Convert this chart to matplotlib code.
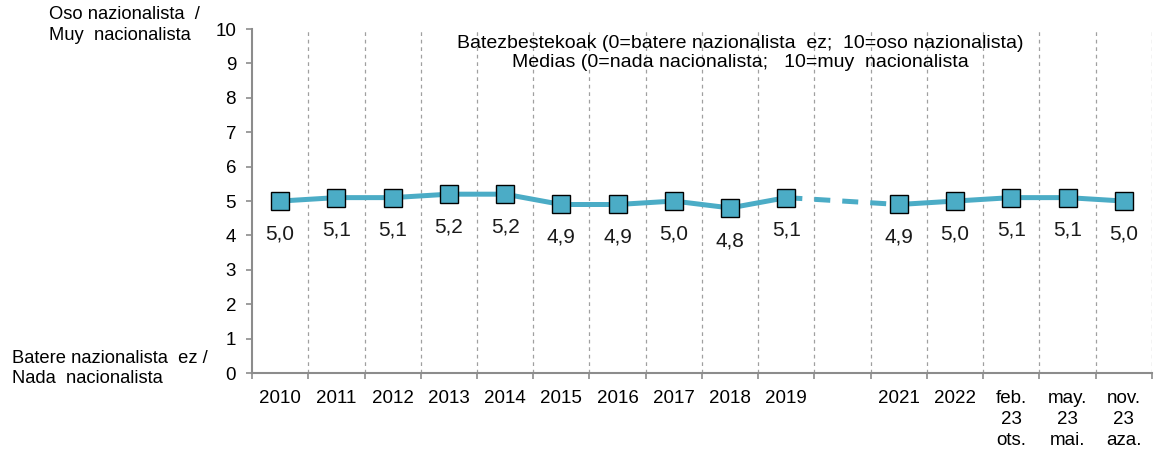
import numpy as np
import matplotlib
matplotlib.use("Agg")
import matplotlib.pyplot as plt

plt.rcParams["font.family"] = ["Liberation Sans", "DejaVu Sans"]

categories = ["2010", "2011", "2012", "2013", "2014", "2015", "2016", "2017", "2018", "2019",
              "", "2021", "2022", "feb.\n23\nots.", "may.\n23\nmai.", "nov.\n23\naza."]
values = [5.0, 5.1, 5.1, 5.2, 5.2, 4.9, 4.9, 5.0, 4.8, 5.1,
          np.nan, 4.9, 5.0, 5.1, 5.1, 5.0]
labels = ["5,0", "5,1", "5,1", "5,2", "5,2", "4,9", "4,9", "5,0", "4,8", "5,1",
          "", "4,9", "5,0", "5,1", "5,1", "5,0"]

color = "#4BACC6"
grey = "#8C8C8C"

fig = plt.figure(figsize=(11.56, 4.5), dpi=100)
ax = fig.add_axes([0.218, 0.171, 0.7785, 0.7644])

x = np.arange(len(categories))
y = np.array(values)

# dashed bridge over the missing year
ax.plot([x[9], x[11]], [y[9], y[11]], color=color, lw=3.6, dashes=(3.2, 2.4), zorder=2)
ax.plot(x, y, color=color, lw=3.6, marker="s", markersize=13, markerfacecolor=color,
        markeredgecolor="black", markeredgewidth=1.0, zorder=3)

for xi, yi, lab in zip(x, y, labels):
    if lab:
        ax.annotate(lab, (xi, yi), xytext=(0, -23.5), textcoords="offset points",
                    ha="center", va="center", fontsize=15, color="#1a1a1a")

ax.set_xlim(-0.5, len(categories) - 0.5)
ax.set_ylim(0, 10)
ax.set_yticks(range(0, 11))
ax.tick_params(axis="y", labelsize=13.5, length=4.5, width=1.2, color=grey, pad=7)

# category boundaries as ticks and dashed gridlines
bounds = np.arange(-0.5, len(categories) + 0.5, 1)
ax.set_xticks(bounds)
ax.set_xticklabels([])
ax.set_xticks(x, minor=True)
ax.set_xticklabels(categories, minor=True, fontsize=13.5, linespacing=1.3, va="top")
ax.tick_params(axis="x", which="major", length=4.5, width=1.2, color=grey, direction="out")
ax.tick_params(axis="x", which="minor", length=0, pad=12)
for b in bounds[1:]:
    ax.axvline(b, color="#A0A0A0", lw=0.9, ls=(0, (3, 3)), zorder=1)

for side in ["top", "right"]:
    ax.spines[side].set_visible(False)
for side in ["left", "bottom"]:
    ax.spines[side].set_color(grey)
    ax.spines[side].set_linewidth(1.5)

fig.text(0.6405, 0.903, "Batezbestekoak (0=batere nazionalista  ez;  10=oso nazionalista)",
         ha="center", va="center", fontsize=14)
fig.text(0.6405, 0.862, "Medias (0=nada nacionalista;   10=muy  nacionalista",
         ha="center", va="center", fontsize=14)

fig.text(0.042, 0.968, "Oso nazionalista  /", ha="left", va="center", fontsize=13.2)
fig.text(0.042, 0.921, "Muy  nacionalista", ha="left", va="center", fontsize=13.2)
fig.text(0.010, 0.204, "Batere nazionalista  ez /", ha="left", va="center", fontsize=13.2)
fig.text(0.010, 0.158, "Nada  nacionalista", ha="left", va="center", fontsize=13.2)

fig.savefig("out.png", dpi=100)
plt.close(fig)
